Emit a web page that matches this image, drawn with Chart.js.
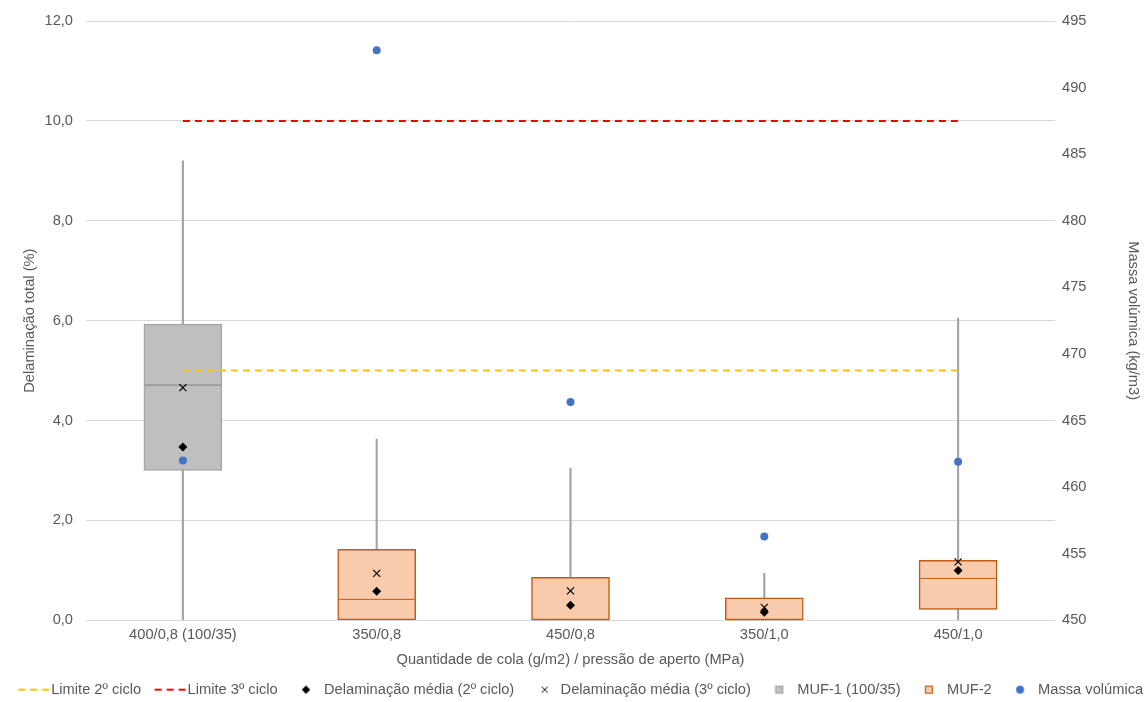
<!DOCTYPE html>
<html>
<head>
<meta charset="utf-8">
<script src="https://cdn.jsdelivr.net/npm/chart.js@4.4.1/dist/chart.umd.min.js"></script>
<style>
  html, body { margin: 0; padding: 0; background: #ffffff; }
  canvas { display: block; }
</style>
</head>
<body>
<canvas id="chart" width="1148" height="702"></canvas>
<script>
// Categories: glue spread (g/m2) / clamping pressure (MPa)
const categories = ['400/0,8 (100/35)', '350/0,8', '450/0,8', '350/1,0', '450/1,0'];

// Box-plot statistics of total delamination (%)
const whiskerMin = [0.0, 0.0, 0.0, 0.0, 0.0];
const whiskerMax = [9.2, 3.63, 3.05, 0.94, 6.05];
const q1 = [3.0, 0.0, 0.0, 0.0, 0.22];
const q3 = [5.93, 1.42, 0.86, 0.45, 1.2];
const median = [4.71, 0.42, 0.0, 0.0, 0.84];

// Mean delamination after the 2nd and 3rd cycles (%)
const mean2nd = [3.47, 0.58, 0.30, 0.16, 1.0];
const mean3rd = [4.66, 0.94, 0.59, 0.26, 1.17];

// Density (kg/m3), right axis
const density = [462.0, 492.8, 466.4, 456.3, 461.9];

// Delamination limits (%)
const limit2nd = [5.0, 5.0, 5.0, 5.0, 5.0];
const limit3rd = [10.0, 10.0, 10.0, 10.0, 10.0];

// Adhesive groups: MUF-1 only on the first combination, MUF-2 on the rest
const groupMUF1 = [true, false, false, false, false];

const leftTicks = [0, 2, 4, 6, 8, 10, 12];
const rightTicks = [450, 455, 460, 465, 470, 475, 480, 485, 490, 495];

const FONT = '"Liberation Sans", Arial, Helvetica, sans-serif';
const FS = 14.67;
const TEXT = '#595959';
const GRID = '#d9d9d9';
const GREY_FILL = '#bfbfbf', GREY_EDGE = '#a5a5a5', GREY_MED = '#7f7f7f';
const ORANGE_FILL = '#f8cbad', ORANGE_EDGE = '#c55a11';
const WHISKER = '#a5a5a5';
const BLUE = '#4472c4';
const YELLOW = '#ffc000', RED = '#ff0000';

const fmt1 = v => v.toFixed(1).replace('.', ',');

const boxMUF1 = categories.map((_, i) => groupMUF1[i] ? [q1[i], q3[i]] : null);
const boxMUF2 = categories.map((_, i) => groupMUF1[i] ? null : [q1[i], q3[i]]);
const whiskers = categories.map((_, i) => [whiskerMin[i], whiskerMax[i]]);
const medMUF1 = categories.map((_, i) => groupMUF1[i] ? median[i] : null);
const medMUF2 = categories.map((_, i) => groupMUF1[i] ? null : median[i]);

// ---- legend icons ----
const legendTexts = ['Limite 2º ciclo', 'Limite 3º ciclo', 'Delaminação média (2º ciclo)',
  'Delaminação média (3º ciclo)', 'MUF-1 (100/35)', 'MUF-2', 'Massa volúmica'];
const measure = document.createElement('canvas').getContext('2d');
measure.font = `${FS}px ${FONT}`;
const totalText = legendTexts.reduce((s, t) => s + measure.measureText(t).width, 0);
const BOX_W = Math.max(2, Math.floor((1142 - totalText) / legendTexts.length - FS / 2));
const TEXT_OFFSET = BOX_W / 2 + FS / 2;   // box centre -> text start

function icon(draw) {
  const half = 50;
  const c = document.createElement('canvas');
  c.width = half * 2; c.height = 16;
  const ctx = c.getContext('2d');
  draw(ctx, half + TEXT_OFFSET, 8);
  return c;
}
const dashIcon = color => icon((ctx, tx, y) => {
  ctx.strokeStyle = color; ctx.lineWidth = 2; ctx.setLineDash([7, 5]);
  ctx.beginPath(); ctx.moveTo(tx - 33, y); ctx.lineTo(tx - 2, y); ctx.stroke();
});
const diamondIcon = icon((ctx, tx, y) => {
  const x = tx - 18, r = 4.2;
  ctx.fillStyle = '#000';
  ctx.beginPath(); ctx.moveTo(x, y - r); ctx.lineTo(x + r, y); ctx.lineTo(x, y + r); ctx.lineTo(x - r, y); ctx.closePath(); ctx.fill();
});
const crossIcon = icon((ctx, tx, y) => {
  const x = tx - 16, r = 3;
  ctx.strokeStyle = '#000'; ctx.lineWidth = 1;
  ctx.beginPath(); ctx.moveTo(x - r, y - r); ctx.lineTo(x + r, y + r); ctx.moveTo(x + r, y - r); ctx.lineTo(x - r, y + r); ctx.stroke();
});
const squareIcon = (fill, edge) => icon((ctx, tx, y) => {
  const x = tx - 18;
  ctx.fillStyle = fill; ctx.strokeStyle = edge; ctx.lineWidth = 1.2;
  ctx.fillRect(x - 3.5, y - 3.5, 7, 7); ctx.strokeRect(x - 3.5, y - 3.5, 7, 7);
});
const circleIcon = icon((ctx, tx, y) => {
  ctx.fillStyle = BLUE; ctx.beginPath(); ctx.arc(tx - 18, y, 4, 0, Math.PI * 2); ctx.fill();
});
const legendIcons = [dashIcon(YELLOW), dashIcon(RED), diamondIcon, crossIcon,
  squareIcon(GREY_FILL, GREY_EDGE), squareIcon(ORANGE_FILL, ORANGE_EDGE), circleIcon];

// Vertical axes: fixed widths, no extra label overflow padding
const fixVertical = w => s => { s.width = w; s.paddingTop = 0; s.paddingBottom = 0; };

const chart = new Chart(document.getElementById('chart'), {
  type: 'bar',
  data: {
    labels: categories,
    datasets: [
      { type: 'line', label: 'Limite 2º ciclo', data: limit2nd, yAxisID: 'y',
        borderColor: YELLOW, borderWidth: 2, borderDash: [7, 5], pointRadius: 0, fill: false, order: 4 },
      { type: 'line', label: 'Limite 3º ciclo', data: limit3rd, yAxisID: 'y',
        borderColor: RED, borderWidth: 2, borderDash: [7, 5], pointRadius: 0, fill: false, order: 4 },
      { type: 'line', label: 'Delaminação média (2º ciclo)', data: mean2nd, yAxisID: 'y', showLine: false,
        pointStyle: 'rectRot', pointRadius: 4.5, backgroundColor: '#000', borderColor: '#000', borderWidth: 0, order: 2 },
      { type: 'line', label: 'Delaminação média (3º ciclo)', data: mean3rd, yAxisID: 'y', showLine: false,
        pointStyle: 'crossRot', pointRadius: 5, borderColor: '#000', borderWidth: 1.2, order: 2 },
      { label: 'MUF-1 (100/35)', data: boxMUF1, yAxisID: 'y', grouped: false, barThickness: 78,
        backgroundColor: GREY_FILL, borderColor: GREY_EDGE, borderWidth: 1.5, borderSkipped: false, order: 8 },
      { label: 'MUF-2', data: boxMUF2, yAxisID: 'y', grouped: false, barThickness: 78,
        backgroundColor: ORANGE_FILL, borderColor: ORANGE_EDGE, borderWidth: 1.5, borderSkipped: false, order: 8 },
      { type: 'line', label: 'Massa volúmica', data: density, yAxisID: 'y2', showLine: false,
        pointStyle: 'circle', pointRadius: 4, backgroundColor: BLUE, borderColor: BLUE, borderWidth: 0, order: 1 },
      { label: 'whiskers', data: whiskers, yAxisID: 'y', grouped: false, barThickness: 1.5,
        backgroundColor: WHISKER, borderWidth: 0, order: 9 },
      { type: 'line', label: 'median MUF-1', data: medMUF1, yAxisID: 'y', showLine: false,
        pointStyle: 'line', pointRadius: 38, borderColor: GREY_MED, borderWidth: 1, order: 6 },
      { type: 'line', label: 'median MUF-2', data: medMUF2, yAxisID: 'y', showLine: false,
        pointStyle: 'line', pointRadius: 38, borderColor: ORANGE_EDGE, borderWidth: 1, order: 6 }
    ]
  },
  options: {
    responsive: false,
    animation: false,
    layout: { autoPadding: false, padding: { top: 21, bottom: -5, left: 0, right: 0 } },
    plugins: {
      tooltip: { enabled: false },
      legend: {
        position: 'bottom',
        onClick: null,
        labels: {
          usePointStyle: true,
          pointStyleWidth: BOX_W,
          boxHeight: 12,
          padding: 0,
          color: TEXT,
          font: { family: FONT, size: FS },
          generateLabels: () => legendTexts.map((t, i) => ({
            text: t, pointStyle: legendIcons[i], fillStyle: 'rgba(0,0,0,0)',
            strokeStyle: 'rgba(0,0,0,0)', lineWidth: 0, hidden: false, fontColor: TEXT, datasetIndex: i
          }))
        }
      }
    },
    scales: {
      x: {
        type: 'category',
        offset: true,
        grid: { display: false, drawTicks: false },
        border: { display: false },
        ticks: { color: TEXT, font: { family: FONT, size: FS }, padding: 6, maxRotation: 0 },
        title: { display: true, text: 'Quantidade de cola (g/m2) / pressão de aperto (MPa)',
          color: TEXT, font: { family: FONT, size: FS }, padding: { top: 0, bottom: 14 } },
        afterFit: s => { s.height = 62; }
      },
      y: {
        position: 'left',
        min: 0, max: 12,
        afterBuildTicks: s => { s.ticks = leftTicks.map(v => ({ value: v })); },
        grid: { color: GRID, lineWidth: 1, drawTicks: false },
        border: { display: false },
        ticks: { color: TEXT, font: { family: FONT, size: FS }, padding: 13, callback: v => fmt1(v) },
        title: { display: true, text: 'Delaminação total (%)', color: TEXT,
          font: { family: FONT, size: FS }, padding: { top: 21, bottom: 0 } },
        afterFit: fixVertical(86)
      },
      y2: {
        position: 'right',
        min: 450, max: 495,
        afterBuildTicks: s => { s.ticks = rightTicks.map(v => ({ value: v })); },
        grid: { display: false, drawTicks: false },
        border: { display: false },
        ticks: { color: TEXT, font: { family: FONT, size: FS }, padding: 7 },
        title: { display: true, text: 'Massa volúmica (kg/m3)', color: TEXT,
          font: { family: FONT, size: FS }, padding: { top: 6, bottom: 0 } },
        afterFit: fixVertical(93)
      }
    }
  }
});
</script>
</body>
</html>
